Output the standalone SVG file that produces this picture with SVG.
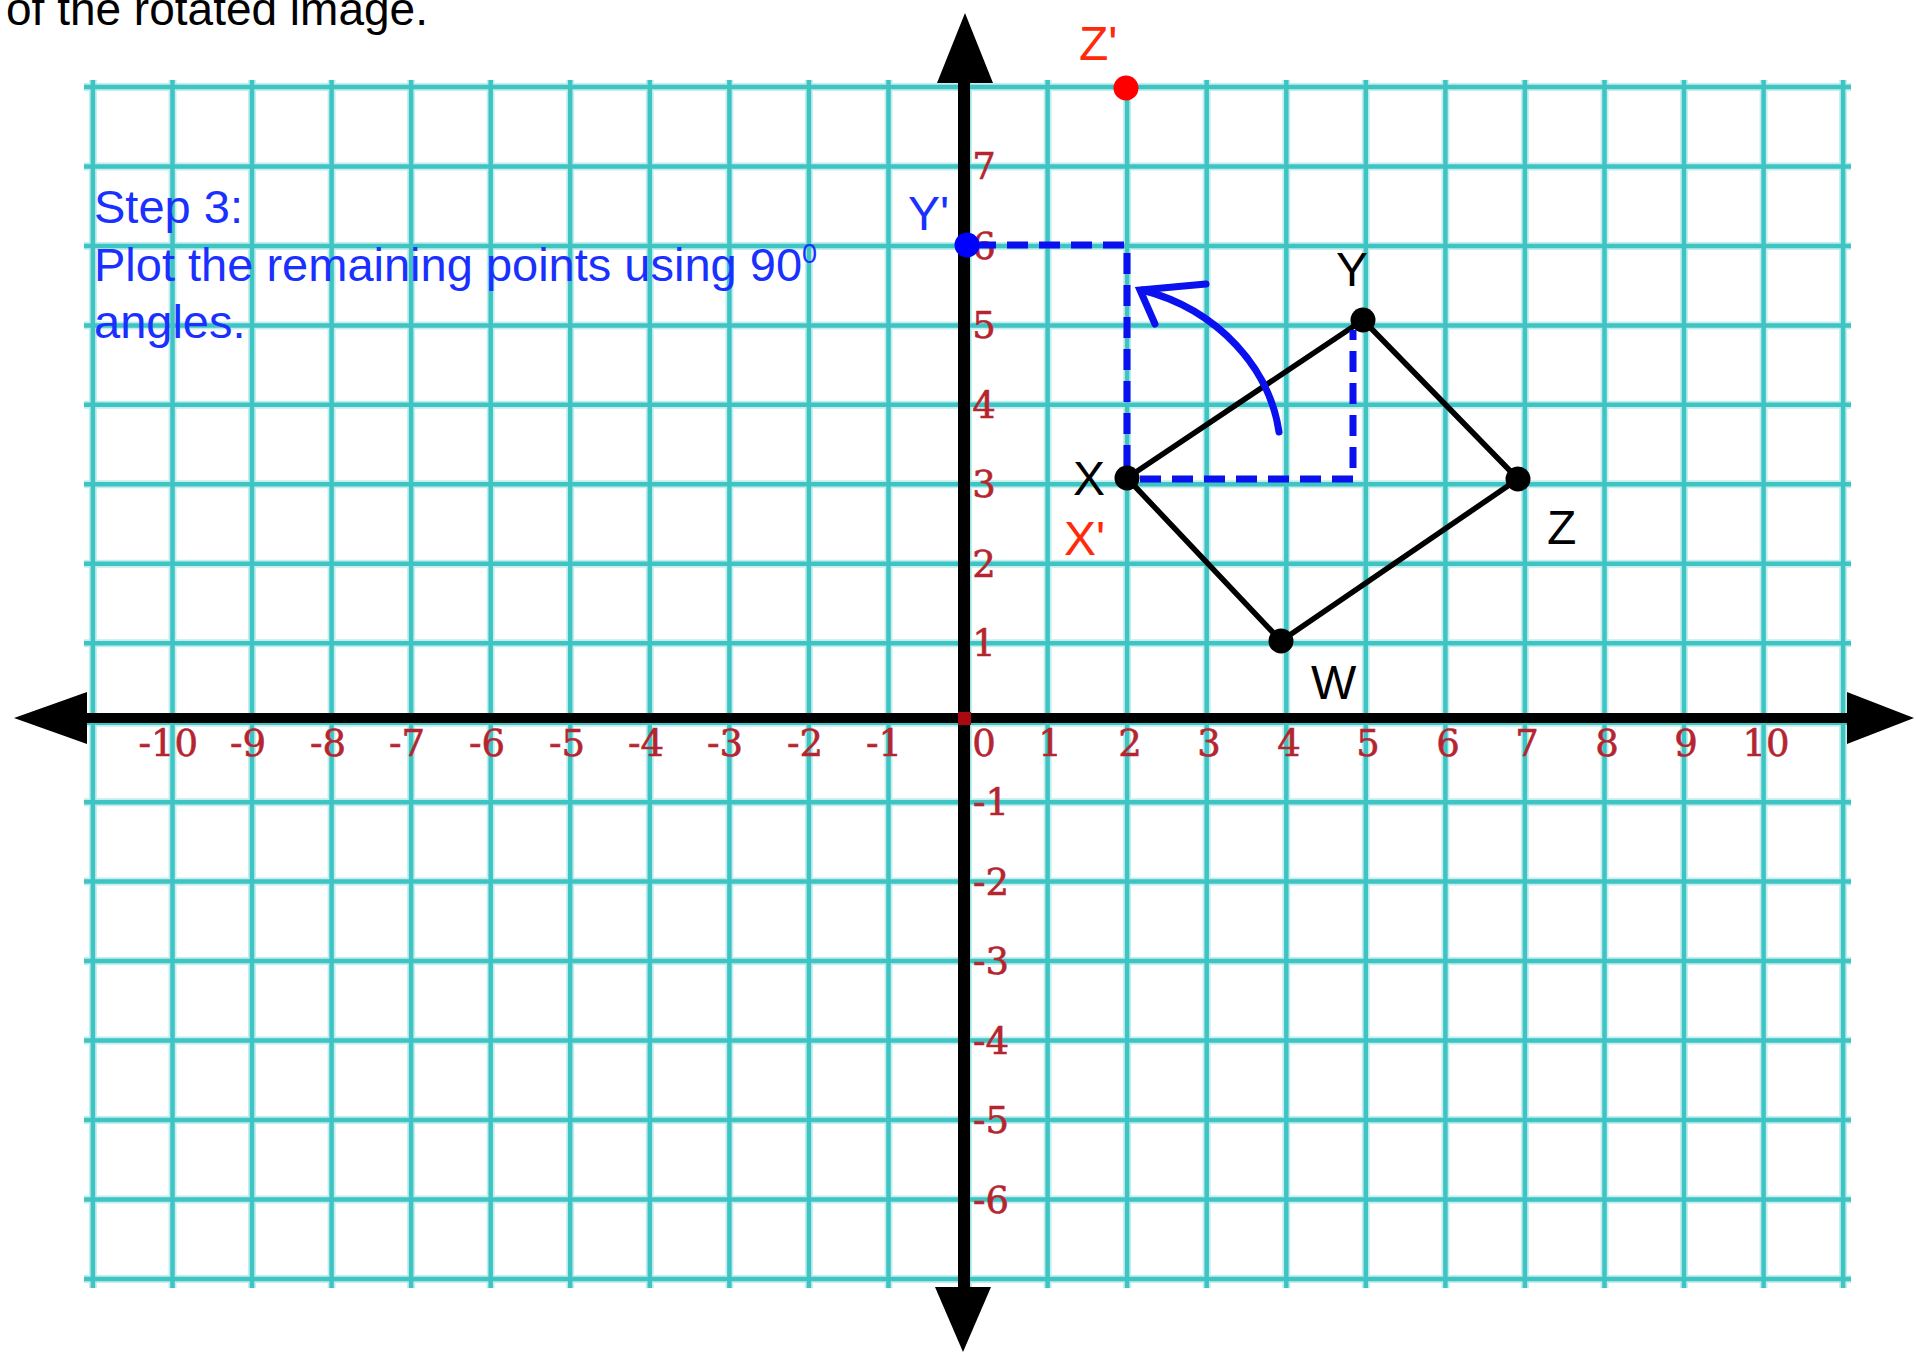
<svg xmlns="http://www.w3.org/2000/svg" width="1916" height="1354" viewBox="0 0 1916 1354">
<style>
.gl{stroke:#3fc4c4;stroke-width:4.5;fill:none}
.gh{stroke:#c4eeee;stroke-width:8;fill:none}
.ax{stroke:#000;fill:none}
.tk{font-family:"DejaVu Serif","Liberation Serif",serif;font-size:37px;fill:#b52530;stroke:#b52530;stroke-width:0.6}
.lb{font-family:"Liberation Sans",Arial,sans-serif;font-size:48px}
.blue{fill:#1a30ff}
.red{fill:#ff2a0a}
.blk{fill:#000}
.edge{stroke:#000;stroke-width:5.5;fill:none;stroke-linejoin:round}
.dash{stroke:#0a10ee;stroke-width:7;fill:none;stroke-dasharray:21 11}
.arc{stroke:#0a10ee;stroke-width:7;fill:none;stroke-linecap:round}
</style>
<rect width="1916" height="1354" fill="#fff"/>
<text class="lb blk" x="6" y="25" style="font-size:46px">of the rotated image.</text>
<g id="grid">
<g class="gh">
<path d="M92.9 80V1288M172.5 80V1288M252 80V1288M331.6 80V1288M411.1 80V1288M490.7 80V1288M570.2 80V1288M649.8 80V1288M729.4 80V1288M808.9 80V1288M888.5 80V1288M968 80V1288M1047.6 80V1288M1127.1 80V1288M1206.7 80V1288M1286.3 80V1288M1365.8 80V1288M1445.4 80V1288M1524.9 80V1288M1604.5 80V1288M1684 80V1288M1763.6 80V1288M1843.1 80V1288"/>
<path d="M84 86.9H1851M84 166.4H1851M84 245.9H1851M84 325.4H1851M84 404.8H1851M84 484.3H1851M84 563.8H1851M84 643.2H1851M84 722.7H1851M84 802.2H1851M84 881.6H1851M84 961.1H1851M84 1040.6H1851M84 1120H1851M84 1199.5H1851M84 1279H1851"/>
</g>
<g class="gl">
<path d="M92.9 80V1288M172.5 80V1288M252 80V1288M331.6 80V1288M411.1 80V1288M490.7 80V1288M570.2 80V1288M649.8 80V1288M729.4 80V1288M808.9 80V1288M888.5 80V1288M968 80V1288M1047.6 80V1288M1127.1 80V1288M1206.7 80V1288M1286.3 80V1288M1365.8 80V1288M1445.4 80V1288M1524.9 80V1288M1604.5 80V1288M1684 80V1288M1763.6 80V1288M1843.1 80V1288"/>
<path d="M84 86.9H1851M84 166.4H1851M84 245.9H1851M84 325.4H1851M84 404.8H1851M84 484.3H1851M84 563.8H1851M84 643.2H1851M84 722.7H1851M84 802.2H1851M84 881.6H1851M84 961.1H1851M84 1040.6H1851M84 1120H1851M84 1199.5H1851M84 1279H1851"/>
</g>
</g>
<g id="axes">
<line class="ax" x1="80" y1="718" x2="1855" y2="718" stroke-width="10"/>
<line class="ax" x1="964" y1="78" x2="964" y2="1292" stroke-width="12"/>
<polygon points="14,718 87,692 87,744" fill="#000"/>
<polygon points="1914,718 1847,692 1847,744" fill="#000"/>
<polygon points="965,13 937,83 993,83" fill="#000"/>
<polygon points="963,1352 935,1287 991,1287" fill="#000"/>
<rect x="958" y="712" width="13" height="13" fill="#a80a10"/>
</g>
<g id="x-ticks" class="tk" text-anchor="end">
<text x="198" y="756">-10</text>
<text x="266" y="756">-9</text>
<text x="346" y="756">-8</text>
<text x="425" y="756">-7</text>
<text x="505" y="756">-6</text>
<text x="585" y="756">-5</text>
<text x="664" y="756">-4</text>
<text x="743" y="756">-3</text>
<text x="823" y="756">-2</text>
<text x="902" y="756">-1</text>
</g>
<g class="tk" text-anchor="middle">
<text x="984" y="756">0</text>
<text x="1050" y="756">1</text>
<text x="1130" y="756">2</text>
<text x="1209" y="756">3</text>
<text x="1289" y="756">4</text>
<text x="1368" y="756">5</text>
<text x="1448" y="756">6</text>
<text x="1527" y="756">7</text>
<text x="1607" y="756">8</text>
<text x="1686" y="756">9</text>
<text x="1766" y="756">10</text>
</g>
<g id="y-ticks" class="tk" text-anchor="middle">
<text x="984" y="179">7</text>
<text x="984" y="259">6</text>
<text x="984" y="338">5</text>
<text x="984" y="418">4</text>
<text x="984" y="497">3</text>
<text x="984" y="577">2</text>
<text x="984" y="656">1</text>
</g>
<g class="tk">
<text x="973" y="815">-1</text>
<text x="973" y="895">-2</text>
<text x="973" y="974">-3</text>
<text x="973" y="1054">-4</text>
<text x="973" y="1133">-5</text>
<text x="973" y="1213">-6</text>
</g>
<g id="step-text" class="lb blue" style="font-size:47px">
<text x="94" y="223">Step 3:</text>
<text x="94" y="281">Plot the remaining points using 90<tspan font-size="27" dy="-18">0</tspan></text>
<text x="94" y="338">angles.</text>
</g>
<g id="connectors">
<polygon class="edge" points="1127,478 1363,320 1518,479 1281,641"/>
<polyline class="dash" points="975,245 1127,245 1127,478"/>
<polyline class="dash" points="1140,479 1353,479 1353,330"/>
<path class="arc" d="M1279 432 C1270 370 1220 310 1142 290"/>
<polyline class="arc" points="1206,284 1140,290 1155,324" stroke-linejoin="miter"/>
</g>
<g id="node-X"><circle cx="1127" cy="478" r="12.5" fill="#000"/><text class="lb blk" x="1073" y="495">X</text><text class="lb red" x="1064" y="555">X'</text></g>
<g id="node-Y"><circle cx="1363" cy="320" r="12.5" fill="#000"/><text class="lb blk" x="1336" y="286">Y</text></g>
<g id="node-Z"><circle cx="1518" cy="479" r="12.5" fill="#000"/><text class="lb blk" x="1547" y="544">Z</text></g>
<g id="node-W"><circle cx="1281" cy="641" r="12.5" fill="#000"/><text class="lb blk" x="1311" y="699">W</text></g>
<g id="node-Zp"><circle cx="1126" cy="88" r="12.5" fill="#ff0000"/><text class="lb red" x="1079" y="60">Z'</text></g>
<g id="node-Yp"><circle cx="967" cy="245" r="12.5" fill="#0000ff"/><text class="lb blue" x="908" y="230">Y'</text></g>
</svg>
